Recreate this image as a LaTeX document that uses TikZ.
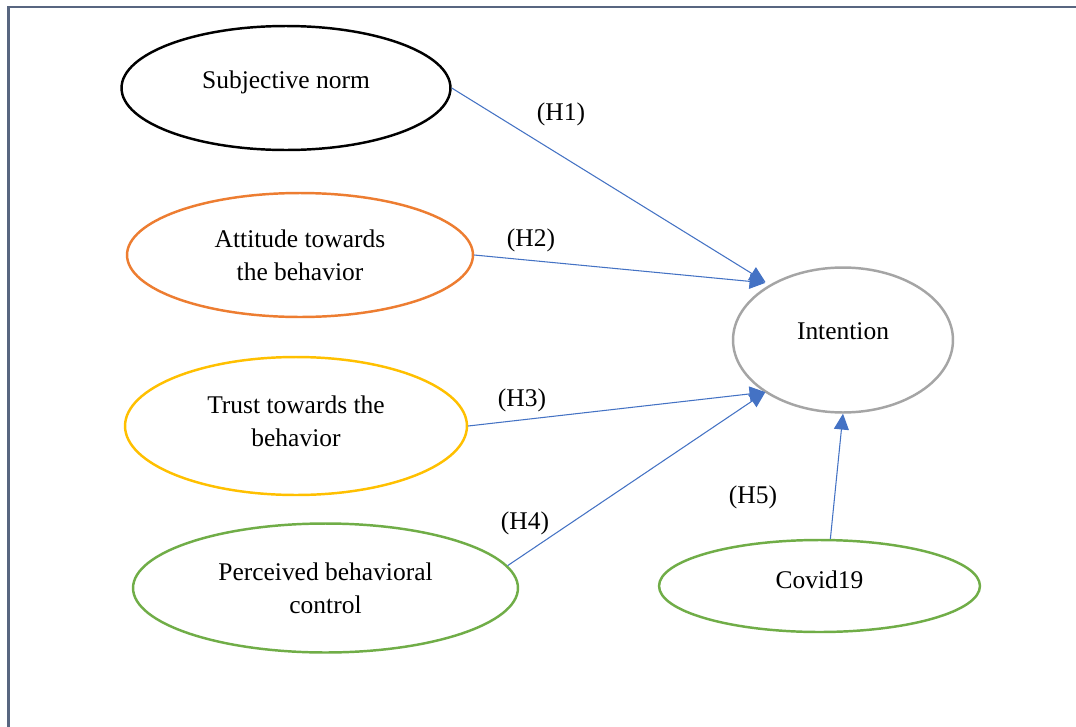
\documentclass[tikz,border=0pt]{standalone}
\usepackage{fontspec}
\setmainfont{Liberation Serif}
\usepackage{tikz}
\usetikzlibrary{shapes.geometric,arrows.meta,positioning}
\definecolor{hypblue}{RGB}{68,114,196}
\definecolor{sncol}{RGB}{0,0,0}
\definecolor{attcol}{RGB}{237,125,49}
\definecolor{trustcol}{RGB}{255,192,0}
\definecolor{pbccol}{RGB}{112,173,71}
\definecolor{intcol}{RGB}{165,165,165}
\definecolor{framecol}{RGB}{88,102,128}

\begin{document}
\begin{tikzpicture}[x=0.02cm,y=-0.02cm,
  construct/.style={ellipse,draw,line width=1.4pt,inner sep=0pt,align=center,
    font=\fontsize{14.5}{18.7}\selectfont},
  hyp/.style={draw=hypblue,line width=0.6pt,-{Triangle[length=9pt,width=8.5pt]}},
  hyplabel/.style={font=\fontsize{14.5}{18.7}\selectfont}]
\useasboundingbox (0,0) rectangle (1076,727);
\fill[white] (0,0) rectangle (1076,727);
\draw[framecol,line width=1.2pt] (8.5,740) -- (8.5,7) -- (1090,7);

\node[construct,draw=sncol,minimum width=6.58cm,minimum height=2.48cm,text depth=9.9pt] (sn) at (286,88) {Subjective norm};
\node[construct,draw=attcol,minimum width=6.92cm,minimum height=2.48cm] (att) at (300,255) {Attitude towards\\the behavior};
\node[construct,draw=trustcol,minimum width=6.84cm,minimum height=2.76cm,text depth=5.4pt] (trust) at (296,426) {Trust towards the\\behavior};
\node[construct,draw=pbccol,minimum width=7.7cm,minimum height=2.58cm] (pbc) at (325.5,588) {Perceived behavioral\\control};
\node[construct,draw=pbccol,minimum width=6.42cm,minimum height=1.84cm,text depth=6.8pt] (cov) at (819.5,586) {Covid19};
\node[construct,draw=intcol,minimum width=4.4cm,minimum height=2.9cm,text depth=10.2pt] (int) at (843,340) {Intention};

\node[hyplabel] (h1) at (561,114) {(H1)};
\node[hyplabel] (h2) at (531,240) {(H2)};
\node[hyplabel] (h3) at (522,400) {(H3)};
\node[hyplabel] (h4) at (525,523) {(H4)};
\node[hyplabel] (h5) at (753,497) {(H5)};

\draw[hyp] (sn.east) -- ([shift={(1,-6)}]int.north west);
\draw[hyp] (att.east) -- ([shift={(1,-5)}]int.north west);
\draw[hyp] (trust.east) -- ([shift={(1,0)}]int.south west);
\draw[hyp] (pbc.7) -- ([shift={(1,0)}]int.south west);
\draw[hyp] (cov.77) -- (int.south);
\end{tikzpicture}
\end{document}
